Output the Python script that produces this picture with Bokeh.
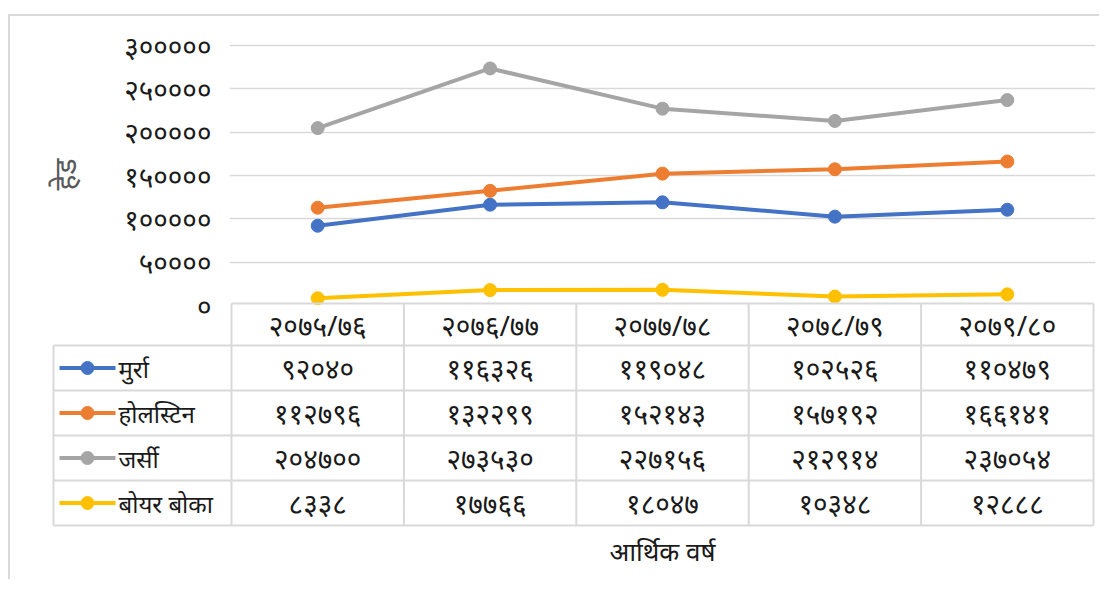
import math
from bokeh.plotting import figure
from bokeh.models import Range1d, FixedTicker
from bokeh.embed import file_html
from bokeh.resources import INLINE
from bokeh.core.properties import value

# ---------------- data ----------------
years = ["२०७५/७६", "२०७६/७७", "२०७७/७८", "२०७८/७९", "२०७९/८०"]
series_names = ["मुर्रा", "होलस्टिन", "जर्सी", "बोयर बोका"]
murra = [92040, 116326, 119048, 102526, 110479]
holstein = [112796, 132299, 152143, 157192, 166141]
jersey = [204700, 273530, 227156, 212914, 237054]
boer = [8338, 17766, 18047, 10348, 12888]
y_ticks = [0, 50000, 100000, 150000, 200000, 250000, 300000]
y_tick_labels = ["०", "५००००", "१०००००", "१५००००", "२०००००", "२५००००", "३०००००"]
y_title = "हेड"
x_title = "आर्थिक वर्ष"
colors = ["#4472C4", "#ED7D31", "#A5A5A5", "#FFC000"]

series = [murra, holstein, jersey, boer]

DEV = str.maketrans("0123456789", "०१२३४५६७८९")


def dev(n):
    return str(n).translate(DEV)


# ---------------- layout constants ----------------
FONT = value("Noto Sans")
W = 1091
COL = 172.4            # px per category
YPP = 300000 / 260.0   # data units per px (chart)
RPX = 45.0             # px per table row
GRID = "#d9d9d9"
TXT = "#1a1a1a"
OVER = 26              # px the chart's bottom border overlaps the table

xs = [i + 0.5 for i in range(len(years))]
ncat = len(years)

# ---------------- chart figure ----------------
p = figure(width=W, height=27 + 262 + OVER,
           x_range=Range1d(-2 / COL, 5 + 2 / COL),
           y_range=Range1d(0, 300000 + 2 * YPP),
           x_axis_location=None,
           min_border_left=219, min_border_right=6,
           min_border_top=27, min_border_bottom=OVER,
           output_backend="svg", toolbar_location=None,
           styles={"margin-left": "8px", "margin-top": "14px",
                   "border-left": "2px solid #d9d9d9",
                   "border-top": "2px solid #d9d9d9"})
p.outline_line_color = None
p.background_fill_color = None
p.border_fill_color = None
p.xgrid.visible = False
p.ygrid.ticker = FixedTicker(ticks=y_ticks)
p.ygrid.grid_line_color = GRID
p.ygrid.grid_line_width = 1.5

ax = p.yaxis[0]
ax.ticker = FixedTicker(ticks=y_ticks)
ax.major_label_overrides = {t: l for t, l in zip(y_ticks, y_tick_labels)}
ax.axis_line_color = None
ax.major_tick_line_color = None
ax.minor_tick_line_color = None
ax.major_tick_in = 0
ax.major_tick_out = 0
ax.major_label_standoff = 18
ax.major_label_text_font = "Noto Sans"
ax.major_label_text_font_size = "28px"
ax.major_label_text_color = TXT
ax.axis_label = y_title
ax.axis_label_text_font = "Noto Sans"
ax.axis_label_text_font_size = "30px"
ax.axis_label_text_font_style = "normal"
ax.axis_label_text_color = "#595959"
ax.axis_label_standoff = 36

for vals, c in zip(series, colors):
    p.line(xs, vals, line_width=4, color=c)
    p.scatter(xs, vals, size=13, color=c)

# ---------------- table figure (header row + data rows) ----------------
xL = (53 - 231) / COL
H0 = -42 / RPX   # header top (in row units)
q = figure(width=W, height=278,
           x_range=Range1d((51 - 231) / COL, 5 + 2 / COL),
           y_range=Range1d((581 - 347) / RPX, -44 / RPX),
           x_axis_location=None, y_axis_location=None,
           min_border_left=41, min_border_right=6,
           min_border_top=0, min_border_bottom=0,
           output_backend="svg", toolbar_location=None,
           styles={"margin-left": "8px", "margin-top": "-%dpx" % (OVER + 2),
                   "border-left": "2px solid #d9d9d9"})
q.outline_line_color = None
q.grid.visible = False
q.background_fill_color = None
q.border_fill_color = None

nrow = len(series_names)
# header top line
q.segment(x0=[0], y0=[H0], x1=[ncat], y1=[H0], line_color=GRID, line_width=2)
# row lines
q.segment(x0=[xL] * (nrow + 1), y0=list(range(nrow + 1)),
          x1=[ncat] * (nrow + 1), y1=list(range(nrow + 1)),
          line_color=GRID, line_width=2)
# verticals
q.segment(x0=[xL], y0=[0], x1=[xL], y1=[nrow], line_color=GRID, line_width=2)
q.segment(x0=list(range(ncat + 1)), y0=[H0] * (ncat + 1),
          x1=list(range(ncat + 1)), y1=[nrow] * (ncat + 1),
          line_color=GRID, line_width=2)

# header labels
q.text(x=xs, y=[H0 / 2] * ncat, text=years, text_align="center",
       text_baseline="middle", text_font=FONT, text_font_size="28px",
       text_color=TXT)

sw0 = (59 - 231) / COL
sw1 = (115 - 231) / COL
tx = (118 - 231) / COL
for k, (name, vals, c) in enumerate(zip(series_names, series, colors)):
    yc = k + 0.5
    q.segment(x0=[sw0], y0=[yc], x1=[sw1], y1=[yc], line_color=c, line_width=4)
    q.scatter([(sw0 + sw1) / 2], [yc], size=13, color=c)
    q.text(x=[tx], y=[yc], text=[name], text_align="left", text_baseline="middle",
           text_font=FONT, text_font_size="24px", text_color=TXT)
    q.text(x=xs, y=[yc] * ncat, text=[dev(v) for v in vals], text_align="center",
           text_baseline="middle", text_font=FONT, text_font_size="28px",
           text_color=TXT)

q.text(x=[ncat / 2], y=[(552 - 347) / RPX], text=[x_title], text_align="center",
       text_baseline="middle", text_font=FONT, text_font_size="26px",
       text_color=TXT)

open("out.html", "w").write(file_html([p, q], INLINE))
